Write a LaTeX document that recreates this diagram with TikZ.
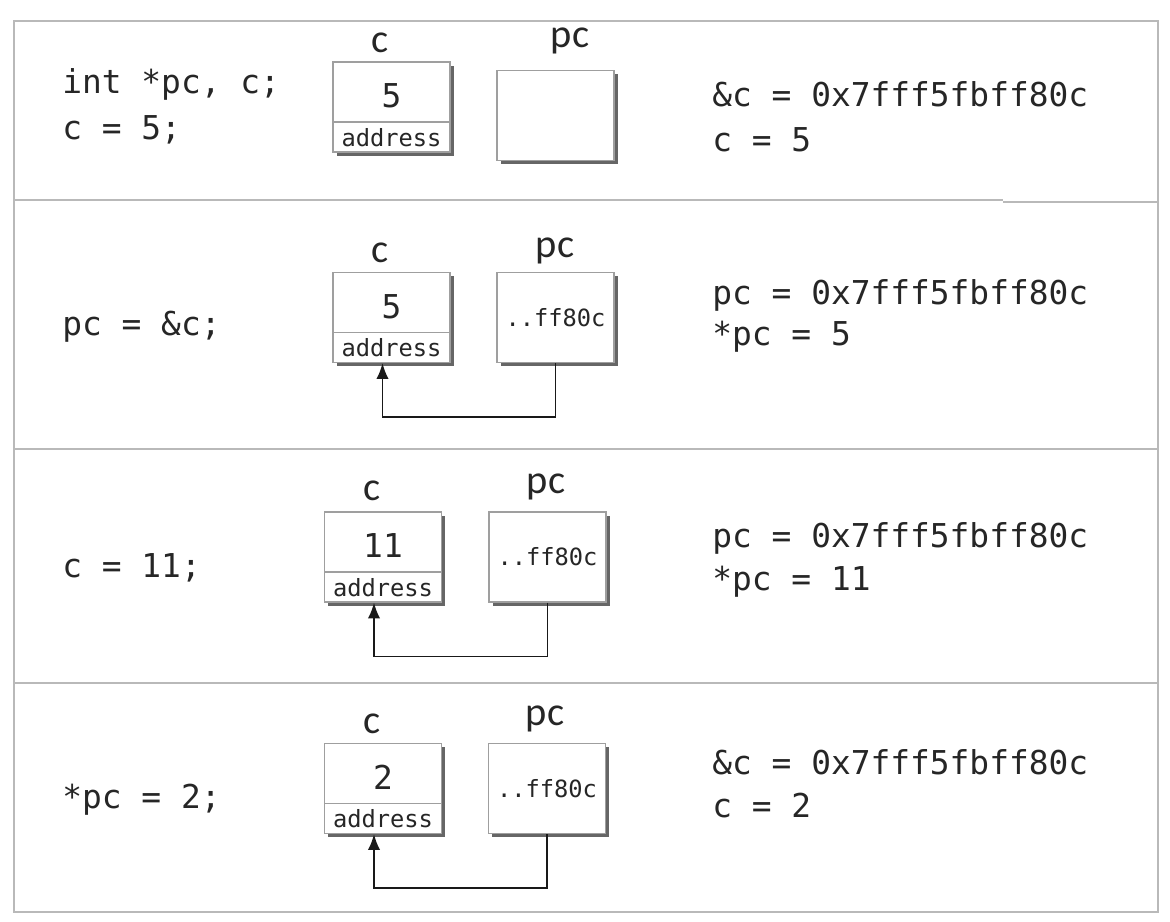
\documentclass[tikz,border=0pt]{standalone}
\usepackage{fontspec}
\setmainfont{Carlito}
\setmonofont{DejaVu Sans Mono}
\usetikzlibrary{shadows,arrows.meta}

\begin{document}
\begin{tikzpicture}
  [x=0.02cm,y=-0.02cm,every node/.style={text=black!85},
   tableline/.style={draw=gray!55,line width=0.8pt},
   cell/.style={shape=rectangle,draw=gray!75,line width=0.7pt,fill=white,
     minimum width=2.34cm,minimum height=1.8cm,inner sep=0pt,
     drop shadow={shadow xshift=2pt,shadow yshift=-2pt,fill=black,opacity=0.6}},
   hex/.style={font=\fontsize{13.5}{16}\ttfamily},
   addr/.style={hex,shape=rectangle,minimum width=2.34cm,minimum height=0.6cm,inner sep=0pt,anchor=south},
   val/.style={font=\fontsize{18.7}{22}\ttfamily,inner sep=0pt},
   codeline/.style={anchor=base west,font=\fontsize{18.7}{22}\ttfamily,inner sep=0pt},
   varname/.style={anchor=base,font=\fontsize{23}{26}\selectfont,inner sep=0pt},
   ptr/.style={draw=gray!20!black,line width=1pt,-{Latex[length=9pt,width=7pt]}}]
\useasboundingbox (0,0) rectangle (1170,922);

\draw[tableline] (14,21) rectangle (1158,912)
                 (14,200) -- (1003,200) (1003,202) -- (1158,202)
                 (14,449) -- (1158,449)
                 (14,683) -- (1158,683);

\node[codeline] (t11) at (62,94)  {int *pc, c;};
\node[codeline] (t12) at (62,140) {c = 5;};
\node[varname]  (n1c) at (380,53) {c};
\node[varname]  (n1p) at (570,48) {pc};
\node[cell]     (c1)  at (391.5,107) {};
\node[addr]     (a1)  at (c1.south) {address};
\node[val]      (v1)  at ([yshift=0.22cm]c1.center) {5};
\node[cell]     (p1)  at (555.5,115.5) {};
\node[codeline] (r11) at (712,107) {\&c = 0x7fff5fbff80c};
\node[codeline] (r12) at (712,152) {c = 5};

\node[codeline] (t21) at (62,336) {pc = \&c;};
\node[varname]  (n2c) at (380,263) {c};
\node[varname]  (n2p) at (555,257) {pc};
\node[cell]     (c2)  at (391.5,317.5) {};
\node[addr]     (a2)  at (c2.south) {address};
\node[val]      (v2)  at ([yshift=0.22cm]c2.center) {5};
\node[cell,hex] (p2)  at (555.5,317.5) {..ff80c};
\node[codeline] (r21) at (712,305) {pc = 0x7fff5fbff80c};
\node[codeline] (r22) at (712,345) {*pc = 5};

\node[codeline] (t31) at (62,577) {c = 11;};
\node[varname]  (n3c) at (372,500) {c};
\node[varname]  (n3p) at (546,493) {pc};
\node[cell]     (c3)  at (383,557) {};
\node[addr]     (a3)  at (c3.south) {address};
\node[val]      (v3)  at ([yshift=0.22cm]c3.center) {11};
\node[cell,hex] (p3)  at (547.5,557) {..ff80c};
\node[codeline] (r31) at (712,547) {pc = 0x7fff5fbff80c};
\node[codeline] (r32) at (712,590) {*pc = 11};

\node[codeline] (t41) at (62,808) {*pc = 2;};
\node[varname]  (n4c) at (372,733) {c};
\node[varname]  (n4p) at (545,725) {pc};
\node[cell]     (c4)  at (383,788.5) {};
\node[addr]     (a4)  at (c4.south) {address};
\node[val]      (v4)  at ([yshift=0.22cm]c4.center) {2};
\node[cell,hex] (p4)  at (547,788.5) {..ff80c};
\node[codeline] (r41) at (712,774) {\&c = 0x7fff5fbff80c};
\node[codeline] (r42) at (712,817) {c = 2};

\foreach \i in {1,2,3,4}
  \draw[draw=gray!75,line width=0.7pt] (a\i.north west) -- (a\i.north east);

\foreach \i in {2,3,4}
  \draw[ptr] (p\i.south) -- ++(0,54) -| ([xshift=-0.18cm]a\i.south);
\end{tikzpicture}
\end{document}
